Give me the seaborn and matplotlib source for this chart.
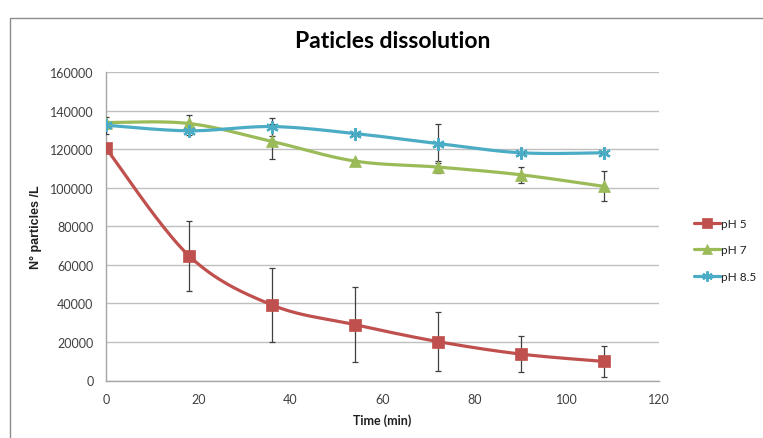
import numpy as np
import pandas as pd
import matplotlib
matplotlib.use("Agg")
import matplotlib.pyplot as plt
import seaborn as sns
from matplotlib.patches import Rectangle
from matplotlib.lines import Line2D

# Sampling times (min)
time_min = [0, 18, 36, 54, 72, 90, 108]
series_names = ["pH 5", "pH 7", "pH 8.5"]

# Particle counts (N°/L) and their standard deviations
ph5 = [120500, 64700, 39200, 29000, 20200, 13700, 9900]
ph5_err = [0, 18100, 19000, 19300, 15500, 9500, 8000]
ph7 = [133800, 133300, 124000, 113800, 110700, 106700, 100700]
ph7_err = [0, 4600, 9200, 0, 3200, 4100, 7700]
ph85 = [132400, 129500, 131700, 128100, 122900, 118100, 118100]
ph85_err = [4400, 2000, 4700, 0, 10100, 0, 0]

x_ticks = [0, 20, 40, 60, 80, 100, 120]
y_ticks = [0, 20000, 40000, 60000, 80000, 100000, 120000, 140000, 160000]

colors = {"pH 5": "#C0504D", "pH 7": "#9BBB59", "pH 8.5": "#4BACC6"}
markers = {"pH 5": "s", "pH 7": "^", "pH 8.5": (6, 2, 0)}
msizes = {"pH 5": 8.5, "pH 7": 8.5, "pH 8.5": 9}


def smooth_curve(xs, ys, steps=40):
    """Catmull-Rom style Bezier smoothing through every point."""
    xs = np.asarray(xs, float)
    ys = np.asarray(ys, float)
    pts = np.column_stack([xs, ys])
    n = len(pts)
    out = []
    t = np.linspace(0, 1, steps)[:, None]
    for i in range(n - 1):
        p0 = pts[max(i - 1, 0)]
        p1 = pts[i]
        p2 = pts[i + 1]
        p3 = pts[min(i + 2, n - 1)]
        c1 = p1 + (p2 - p0) / 6.0
        c2 = p2 - (p3 - p1) / 6.0
        seg = ((1 - t) ** 3) * p1 + 3 * ((1 - t) ** 2) * t * c1 + 3 * (1 - t) * t ** 2 * c2 + t ** 3 * p2
        out.append(seg if i == 0 else seg[1:])
    out = np.vstack(out)
    return out[:, 0], out[:, 1]


data = pd.DataFrame({
    "time": time_min * 3,
    "series": sum([[s] * len(time_min) for s in series_names], []),
    "count": ph5 + ph7 + ph85,
    "err": ph5_err + ph7_err + ph85_err,
})

sns.set_style("white")
plt.rcParams["font.family"] = ["Lato", "DejaVu Sans"]

fig = plt.figure(figsize=(7.63, 4.39), dpi=100)
ax = fig.add_axes([106 / 763, 1 - 381.5 / 439, (659 - 106) / 763, (381.5 - 73) / 439])

# outer chart frame (runs off the right and bottom edges)
fig.patches.append(Rectangle((10 / 763, -0.2), 1.2, 1.2 - 19 / 439, transform=fig.transFigure,
                             fill=False, edgecolor="#8c8c8c", lw=1.0, zorder=0))

for name in series_names:
    sub = data[data["series"] == name]
    sx, sy = smooth_curve(sub["time"], sub["count"])
    curve = pd.DataFrame({"time": sx, "count": sy})
    sns.lineplot(data=curve, x="time", y="count", sort=False, estimator=None,
                 color=colors[name], lw=2.3, ax=ax, zorder=2)
    ax.errorbar(sub["time"], sub["count"], yerr=sub["err"], fmt="none",
                ecolor="#404040", elinewidth=0.9, capsize=2.5, capthick=0.9, zorder=3)
    mk = markers[name]
    ax.plot(sub["time"], sub["count"], linestyle="none", marker=mk,
            markersize=msizes[name], color=colors[name],
            markeredgecolor=colors[name], markeredgewidth=1.6 if name == "pH 8.5" else 0.5,
            zorder=4)

ax.set_xlim(0, 120)
ax.set_ylim(0, 160000)
ax.set_xticks(x_ticks)
ax.set_yticks(y_ticks)
ax.set_xticklabels([str(v) for v in x_ticks])
ax.set_yticklabels([str(v) for v in y_ticks])
ax.yaxis.grid(True, color="#bfbfbf", lw=1.0)
ax.xaxis.grid(False)
ax.set_axisbelow(True)
for s in ["top", "right"]:
    ax.spines[s].set_visible(False)
for s in ["left", "bottom"]:
    ax.spines[s].set_color("#a6a6a6")
    ax.spines[s].set_linewidth(1.0)
ax.tick_params(axis="both", which="major", direction="out", length=4, width=1.0,
               color="#a6a6a6", labelsize=9, labelcolor="#404040", pad=5)
ax.set_xlabel("")
ax.set_ylabel("")

fig.text(393 / 763, 1 - 42 / 439, "Paticles dissolution", ha="center", va="center",
         fontsize=16.5, fontweight="bold", color="black")
fig.text(382.5 / 763, 1 - 421 / 439, "Time (min)", ha="center", va="center",
         fontsize=9, fontweight="bold", color="#202020")
fig.text(36 / 763, 1 - 227 / 439, "N° particles /L", ha="center", va="center",
         rotation=90, fontsize=9, fontweight="bold", color="#202020",
         family=["Liberation Sans", "DejaVu Sans"])

handles = [Line2D([0], [0], color=colors[n], lw=2.3, marker=markers[n],
                  markersize=msizes[n] - 1.5, markeredgecolor=colors[n],
                  markeredgewidth=1.4 if n == "pH 8.5" else 0.5) for n in series_names]
fig.legend(handles, series_names, loc="center left", bbox_to_anchor=(683 / 763, 1 - 251 / 439),
           frameon=False, fontsize=8.5, handlelength=2.2, handletextpad=0.15,
           labelspacing=1.3, labelcolor="#202020")

fig.savefig("out.png", dpi=100)
